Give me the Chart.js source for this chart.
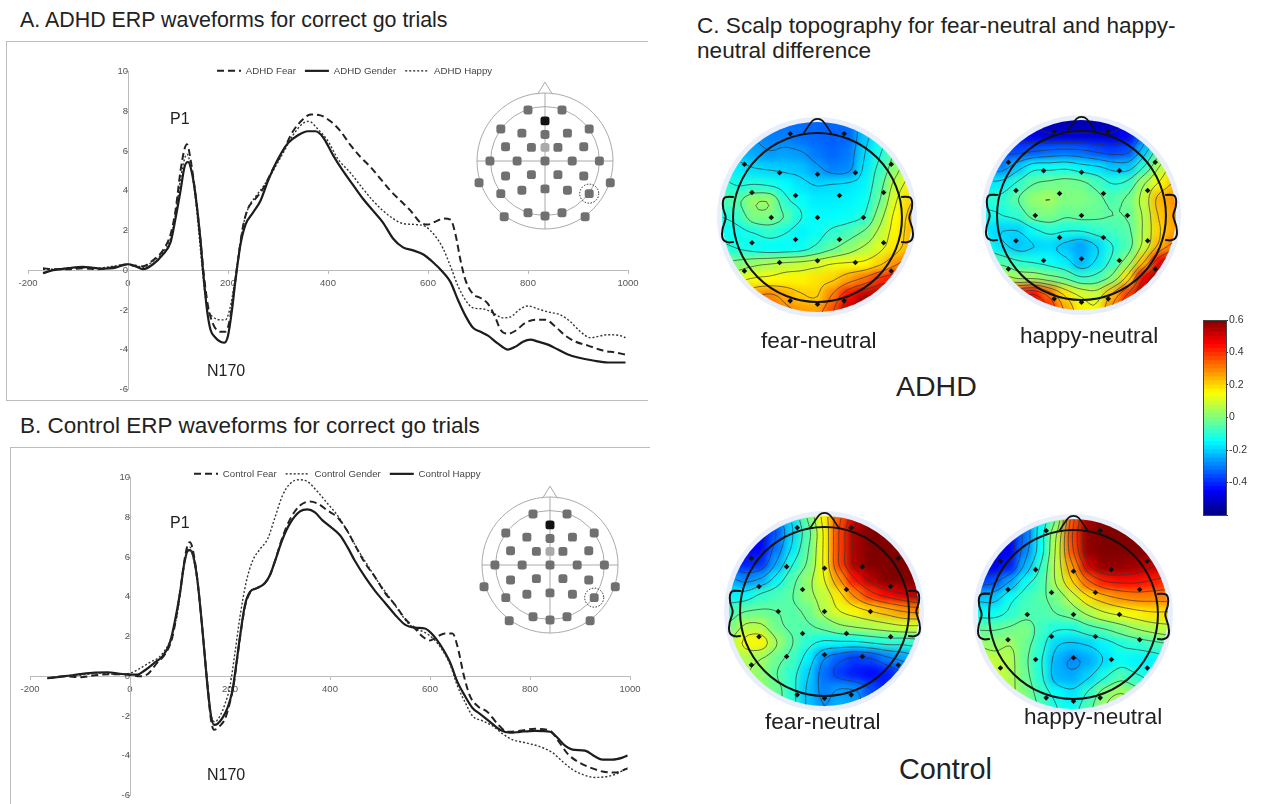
<!DOCTYPE html>
<html>
<head>
<meta charset="utf-8">
<title>ERP waveforms and scalp topography</title>
<script src="https://cdn.jsdelivr.net/npm/chart.js@4"></script>
<style>
    html, body { margin: 0; padding: 0; background: #fff; overflow: hidden; }
    body { width: 1261px; height: 804px; position: relative; font-family: "Liberation Sans", Arial, sans-serif; color: #222; }
    canvas { position: absolute; display: block; }
    .txt { position: absolute; white-space: nowrap; line-height: 1; }
    .frame { position: absolute; background: #bdbdbd; }
    .halo { position: absolute; border-radius: 50%; background: #e8eefa; }
    .disc { position: absolute; width: 221px; height: 221px; clip-path: circle(95px at 50% 50%); }
    .disc canvas { filter: blur(4.5px); }
</style>
</head>
<body>
<div class="frame" style="left:6px;top:41px;width:642px;height:1px"></div>
<div class="frame" style="left:6px;top:41px;width:1px;height:360px"></div>
<div class="frame" style="left:6px;top:400px;width:642px;height:1px"></div>
<div class="frame" style="left:10px;top:447px;width:640px;height:1px"></div>
<div class="frame" style="left:10px;top:447px;width:1px;height:357px"></div>

<canvas id="chartA" width="660" height="362" style="left:0;top:43px;filter:blur(.3px)"></canvas>
<canvas id="chartB" width="660" height="362" style="left:0;top:449px;filter:blur(.3px)"></canvas>
<canvas id="insetA" width="170" height="170" style="left:460px;top:76px;filter:blur(.5px)"></canvas>
<canvas id="insetB" width="170" height="170" style="left:465px;top:480px;filter:blur(.5px)"></canvas>

<div id="maps"></div>
<canvas id="colorbar" width="60" height="215" style="left:1190px;top:310px"></canvas>
<div style="position:absolute;left:1203px;top:320px;width:22px;height:194px;border:1px solid #444"></div>

<div class="txt" style="left:20px;top:10px;font-size:21.4px">A. ADHD ERP waveforms for correct go trials</div>
<div class="txt" style="left:20px;top:415px;font-size:22.5px">B. Control ERP waveforms for correct go trials</div>
<div class="txt" style="left:697px;top:15px;font-size:22.6px">C. Scalp topography for fear-neutral and happy-</div>
<div class="txt" style="left:697px;top:40px;font-size:22.6px">neutral difference</div>
<div class="txt" style="left:170px;top:111px;font-size:16px">P1</div>
<div class="txt" style="left:207px;top:363px;font-size:16px">N170</div>
<div class="txt" style="left:170px;top:515px;font-size:16px">P1</div>
<div class="txt" style="left:207px;top:767px;font-size:16px">N170</div>
<div class="txt" style="left:761px;top:330px;font-size:22.6px">fear-neutral</div>
<div class="txt" style="left:1020px;top:325px;font-size:22.6px">happy-neutral</div>
<div class="txt" style="left:896px;top:372px;font-size:28.5px">ADHD</div>
<div class="txt" style="left:765px;top:711px;font-size:22.6px">fear-neutral</div>
<div class="txt" style="left:1024px;top:706px;font-size:22.6px">happy-neutral</div>
<div class="txt" style="left:899px;top:755px;font-size:28.8px">Control</div>

<script>
// ---------- waveforms (ms, microvolts) ----------
const adhdFearX = [-170,-150,-120,-90,-60,-30,0,15,30,50,70,85,95,105,113,118,125,135,145,152,160,170,185,195,205,212,220,230,240,255,270,290,310,330,350,365,385,405,425,445,465,485,505,525,545,565,585,600,615,630,645,655,665,675,690,705,720,735,745,760,775,795,815,835,855,875,895,920,950,975,995];
const adhdFearY = [0.1,0.05,0.05,0.1,0.05,0.15,0.3,0.2,0.2,0.5,1,1.8,3,5,6.1,6.35,5.6,3.8,1.5,-0.3,-1.8,-2.7,-3.1,-3.1,-2.3,-1,0.5,2.2,3.1,3.6,4.1,5.1,6,7,7.6,7.85,7.8,7.5,7,6.3,5.7,5.2,4.6,4,3.5,3,2.4,2.3,2.45,2.6,2.55,1.8,0.5,-0.5,-1.2,-1.4,-1.7,-2.4,-3,-3.2,-3.05,-2.65,-2.5,-2.5,-2.85,-3.3,-3.6,-3.8,-4.05,-4.15,-4.25];

const adhdGenderX = [-170,-150,-120,-90,-70,-50,-30,-10,0,15,30,50,70,85,95,105,113,120,127,135,145,150,158,165,175,185,193,200,208,215,225,235,250,265,280,300,320,340,360,375,390,410,430,450,470,490,510,530,550,570,590,610,630,645,660,675,690,705,720,740,760,775,790,805,820,840,860,880,900,930,960,995];
const adhdGenderY = [-0.15,0,0.1,0.17,0.12,0.08,0.1,0.25,0.3,0.2,0.05,0.3,0.8,1.4,2.6,4,5.2,5.45,5,3.8,1.5,0,-2,-3,-3.4,-3.6,-3.65,-3.3,-2,-0.5,1.3,2.3,2.9,3.5,4.5,5.6,6.4,6.8,7,7,6.7,5.8,5,4.3,3.6,3,2.4,1.6,1.15,1,0.8,0.4,-0.1,-0.6,-1.5,-2.3,-2.9,-3.1,-3.3,-3.7,-4,-3.85,-3.6,-3.5,-3.6,-3.75,-4,-4.25,-4.4,-4.55,-4.65,-4.65];

const adhdHappyX = [-170,-150,-120,-90,-60,-30,0,15,30,50,70,85,95,105,113,118,125,135,145,153,160,170,185,195,205,212,220,230,240,255,270,290,310,330,350,362,380,400,420,445,470,490,510,530,550,575,595,615,630,645,660,675,690,710,730,750,765,785,800,820,840,865,885,905,925,960,985,995];
const adhdHappyY = [0.05,0.05,0.1,0.12,0.1,0.2,0.3,0.25,0.15,0.45,0.9,1.6,2.8,4.6,5.6,5.85,5.3,3.6,1,-1,-2,-2.35,-2.5,-2.5,-1.8,-0.8,0.6,2.2,3.1,3.7,4.2,5,5.9,6.8,7.4,7.5,7.1,6.5,5.6,4.9,4.1,3.5,3,2.6,2.35,2.3,2.2,1.7,1.1,0.2,-0.8,-1.5,-1.9,-1.95,-2.15,-2.4,-2.35,-1.95,-1.8,-1.95,-2.1,-2.25,-2.6,-3.1,-3.4,-3.25,-3.3,-3.4];

const controlFearX = [-165,-130,-100,-70,-40,-10,20,35,55,70,85,100,108,115,120,127,135,145,155,162,168,180,190,200,207,215,222,230,240,255,270,280,290,305,320,340,360,375,395,415,435,450,470,490,510,530,550,570,585,600,615,630,645,655,668,680,695,715,735,755,780,810,840,855,875,895,920,945,970,995];
const controlFearY = [-0.1,0,-0.05,0.05,0.1,0.1,0,0.1,0.7,1.1,2,4.2,5.7,6.6,6.75,6.2,4.8,2.3,-0.5,-2.2,-2.7,-2.5,-2.15,-1.3,-0.5,1,2.3,3.5,4.2,4.45,4.7,5.1,5.8,7,7.9,8.6,8.8,8.7,8.35,8,7.3,6.6,5.7,5,4.2,3.6,2.9,2.4,2,1.8,2,2.15,2.15,1.5,0,-1,-1.5,-1.8,-2.4,-2.8,-2.75,-2.65,-2.75,-3.2,-3.9,-4.3,-4.6,-4.8,-4.85,-4.65];

const controlGenderX = [-165,-130,-100,-60,-30,0,20,40,60,80,95,105,113,120,127,135,145,155,162,170,180,190,200,210,220,232,245,260,275,290,305,320,338,355,375,395,415,435,455,475,495,515,535,555,570,590,610,625,640,655,670,685,705,725,745,765,790,820,845,865,885,905,930,955,975,995];
const controlGenderY = [-0.1,0,0.05,0.15,0.1,0.15,0.4,0.7,1,1.8,3.2,5,6.2,6.5,5.9,4.7,2.3,-0.3,-1.9,-2.3,-2,-1.4,-0.5,1.2,3,4.7,5.8,6.4,6.9,8,9.1,9.7,9.9,9.8,9.3,8.7,8.1,7.3,6.4,5.6,4.8,4.1,3.4,2.7,2.4,2.2,1.8,1.3,0.6,-0.5,-1.3,-2,-2.25,-2.5,-2.9,-3.2,-3.35,-3.55,-3.85,-4.3,-4.7,-4.95,-5.1,-5.05,-4.9,-4.6];

const controlHappyX = [-165,-130,-100,-70,-45,-20,0,15,30,50,65,80,90,100,108,115,120,127,135,145,155,162,168,175,185,195,205,212,220,230,240,255,270,280,290,305,320,340,355,370,385,400,420,435,450,470,490,510,530,550,570,590,605,620,640,655,670,685,700,720,740,760,780,810,840,855,870,885,910,930,945,965,985,995];
const controlHappyY = [-0.1,0,0.1,0.18,0.2,0.12,0.08,0.08,0.3,0.7,1,1.7,2.8,4.2,5.6,6.3,6.35,6,4.8,2.3,-0.5,-2,-2.45,-2.4,-2.1,-1.6,-0.7,0.5,2,3.6,4.25,4.45,4.7,5.1,5.8,6.9,7.7,8.3,8.4,8.25,7.85,7.55,7.1,6.5,5.8,5,4.3,3.7,3.1,2.6,2.45,2.4,2.1,1.6,0.7,-0.3,-1,-1.6,-1.9,-2.3,-2.7,-2.85,-2.8,-2.75,-2.8,-3.1,-3.5,-3.7,-3.75,-4.05,-4.2,-4.2,-4.1,-4];

// ---------- electrode montage of the insets ----------
const insetElecX = [-0.25,0.25,0,-0.65,0.65,-0.34,0,0.33,-0.58,-0.2,0,0.19,0.57,-0.81,-0.41,0,0.4,0.8,-0.58,-0.2,0.19,0.57,-0.97,0.96,-0.65,-0.34,0,0.33,0.65,-0.25,0,0.25,-0.6,0.59];
const insetElecY = [0.75,0.75,0.59,0.47,0.47,0.41,0.39,0.41,0.21,0.2,0.2,0.2,0.21,0,0,0,0,0,-0.22,-0.2,-0.2,-0.22,-0.32,-0.32,-0.48,-0.43,-0.41,-0.43,-0.48,-0.76,-0.81,-0.76,-0.82,-0.82];
const insetBlack = 2;
const insetLight = 10;
const insetCircled = 28;

// ---------- scalp maps, values in hundredths, 13 x 13 cells ----------
const gridAxis = [-6,-5,-4,-3,-2,-1,0,1,2,3,4,5,6];

const adhdFearGrid = [
    [-25,-28,-30,-32,-32,-32,-33,-33,-32,-25,-20,-12,-5],
    [-22,-26,-28,-30,-30,-32,-33,-34,-33,-22,-15,-8,2],
    [-18,-22,-25,-27,-26,-27,-31,-33,-31,-20,-12,-2,8],
    [-15,-17,-19,-20,-21,-22,-26,-30,-29,-18,-9,2,12],
    [-10,-12,-11,-12,-15,-18,-20,-19,-18,-16,-6,8,16],
    [-6,-5,3,3,-10,-14,-17,-17,-16,-14,-3,12,20],
    [-12,-9,0,0,-5,-12,-15,-15,-14,-11,2,15,22],
    [-14,-14,-12,-9,-12,-16,-14,-10,-7,-2,7,16,23],
    [-10,-12,-14,-15,-15,-14,-9,-4,1,6,11,18,25],
    [-3,0,3,5,7,8,10,13,14,15,20,28,34],
    [6,11,14,15,16,16,18,20,26,32,40,44,50],
    [14,20,27,30,25,21,20,30,44,52,54,56,58],
    [20,26,32,34,30,27,26,36,52,56,58,60,60]
];
const adhdHappyGrid = [
    [-42,-48,-50,-53,-55,-55,-55,-55,-55,-52,-40,-20,-8],
    [-38,-42,-46,-48,-50,-50,-50,-50,-50,-45,-32,-15,-4],
    [-35,-37,-37,-35,-33,-32,-33,-36,-38,-36,-22,-5,5],
    [-30,-30,-22,-14,-14,-13,-16,-18,-22,-22,-10,6,16],
    [-18,-17,-10,-4,-2,-1,-2,-7,-12,-9,4,14,22],
    [-10,-10,-4,2,4,0,0,-2,-6,-2,8,24,28],
    [-14,-12,-9,-1,0,-3,-2,-3,-4,-3,6,22,26],
    [-18,-20,-20,-14,-10,-12,-12,-9,-7,-5,6,20,26],
    [-14,-18,-22,-20,-19,-22,-26,-20,-12,-6,8,24,32],
    [-4,-6,-10,-12,-14,-17,-24,-18,-9,2,22,45,55],
    [6,8,4,4,0,-4,-10,-8,0,18,46,58,60],
    [24,32,40,44,32,18,10,8,22,38,54,60,60],
    [34,42,50,52,42,26,16,14,30,46,58,60,60]
];
const controlFearGrid = [
    [-30,-38,-38,-30,-18,-2,16,35,50,58,60,55,45],
    [-38,-42,-45,-35,-20,-6,14,38,55,60,60,60,55],
    [-42,-46,-45,-32,-18,-4,14,38,55,60,60,60,60],
    [-38,-42,-40,-26,-12,-2,14,38,55,60,60,60,60],
    [-26,-30,-26,-16,-6,2,12,28,44,54,60,60,60],
    [-16,-16,-10,-7,-4,2,8,18,30,40,46,50,54],
    [-8,-4,-3,-4,-5,-2,6,12,16,20,24,28,30],
    [-2,6,6,-2,-5,-5,-2,2,4,6,8,10,10],
    [4,14,16,4,-4,-10,-14,-14,-14,-12,-10,-10,-8],
    [2,6,4,-2,-7,-16,-28,-34,-38,-36,-30,-26,-22],
    [2,4,2,-4,-10,-20,-32,-38,-42,-44,-42,-36,-30],
    [6,6,2,-2,-10,-22,-30,-27,-28,-36,-42,-40,-35],
    [8,8,4,-2,-10,-22,-28,-24,-26,-34,-40,-40,-38]
];
const controlHappyGrid = [
    [-25,-35,-40,-30,-16,0,35,55,60,60,60,58,50],
    [-35,-42,-45,-32,-14,6,38,58,60,60,60,60,58],
    [-42,-48,-47,-30,-14,8,36,58,60,60,60,60,58],
    [-45,-48,-42,-24,-10,8,28,50,58,58,56,52,50],
    [-38,-36,-26,-14,-7,6,20,34,42,44,44,42,40],
    [-22,-22,-14,-8,-5,-1,8,18,24,28,30,30,30],
    [-14,-14,-10,-6,-6,-4,-1,5,10,13,16,18,18],
    [-4,-4,-2,0,-8,-12,-12,-8,-5,-1,3,6,8],
    [4,2,4,-2,-10,-20,-22,-20,-16,-12,-10,-8,-6],
    [8,8,6,-3,-12,-24,-29,-25,-19,-14,-16,-16,-14],
    [12,10,6,-2,-11,-24,-25,-20,-12,-6,-10,-14,-14],
    [14,12,6,0,-8,-15,-18,-10,0,4,0,-6,-8],
    [16,14,8,2,-6,-12,-14,-6,4,8,4,-2,-6]
];

const scalpElecX = [-1.73,1.69,-4.63,4.67,-2.4,0,2.4,-4.15,-1.39,1.39,4.19,-2.93,0,2.91,-4.15,-1.39,1.39,4.19,-4.63,-2.4,0,2.4,4.67,-1.73,0,1.69];
const scalpElecY = [5.31,5.31,3.37,3.37,2.84,2.74,2.84,1.58,1.39,1.39,1.58,0,0,0,-1.6,-1.39,-1.39,-1.6,-3.39,-2.85,-2.74,-2.85,-3.39,-5.28,-5.49,-5.28];

const colorbarTicks = [-0.6,-0.4,-0.2,0,0.2,0.4,0.6];

// ---------- helpers ----------
const fontName = "'Liberation Sans', Arial, sans-serif";

function toPoints(xs, ys) {
    return xs.map((x, i) => ({ x: x, y: ys[i] }));
}

function jet(v) {
    // v goes from -0.6 to 0.6
    let t = Math.max(0, Math.min(1, (v + 0.6) / 1.2));
    let r = Math.min(4 * t - 1.5, -4 * t + 4.5);
    let g = Math.min(4 * t - 0.5, -4 * t + 3.5);
    let b = Math.min(4 * t + 0.5, -4 * t + 2.5);
    let c = x => Math.round(255 * Math.max(0, Math.min(1, x)));
    return `rgb(${c(r)},${c(g)},${c(b)})`;
}

const lineStyles = {
    dashed: { borderWidth: 2, borderDash: [7, 4], borderColor: "#222" },
    solid: { borderWidth: 2.2, borderDash: [], borderColor: "#1c1c1c" },
    dotted: { borderWidth: 1.4, borderDash: [2, 2], borderColor: "#333" }
};

function makeSeries(label, xs, ys, kind) {
    return Object.assign({
        label: label,
        data: toPoints(xs, ys),
        showLine: true,
        pointRadius: 0,
        cubicInterpolationMode: "monotone"
    }, lineStyles[kind]);
}

function legendItems(chart) {
    // with point styles the default items lose the dash of the line
    const items = Chart.defaults.plugins.legend.labels.generateLabels(chart);
    items.forEach((item, i) => {
        const ds = chart.data.datasets[i];
        item.lineDash = ds.borderDash;
        item.lineWidth = ds.borderWidth;
        item.strokeStyle = ds.borderColor;
    });
    return items;
}

function makeWaveChart(id, datasets, legendLeft, legendTop, pad) {
    // the legend sits over the plot in the reference, so it is moved after layout
    const moveLegend = {
        id: "moveLegend",
        afterLayout(chart) {
            const l = chart.legend;
            const w = l.right - l.left;
            l.left = legendLeft;
            l.right = legendLeft + w;
            l.top = legendTop;
            l.bottom = legendTop + 30;
        }
    };
    return new Chart(document.getElementById(id), {
        type: "scatter",
        data: { datasets: datasets },
        plugins: [moveLegend],
        options: {
            responsive: false,
            animation: false,
            layout: { padding: pad },
            plugins: {
                tooltip: { enabled: false },
                legend: {
                    position: "top",
                    align: "start",
                    labels: {
                        usePointStyle: true,
                        pointStyle: "line",
                        pointStyleWidth: 24,
                        padding: 9,
                        color: "#444",
                        font: { size: 9.7, family: fontName },
                        generateLabels: legendItems
                    }
                }
            },
            scales: {
                x: {
                    type: "linear",
                    min: -200,
                    max: 1000,
                    position: { y: 0 },
                    border: { color: "#bbb" },
                    grid: { drawOnChartArea: false, color: "#bbb", tickLength: 3 },
                    ticks: { stepSize: 200, color: "#555", padding: 4, maxRotation: 0, font: { size: 9.5, family: fontName }, callback: v => String(v) }
                },
                y: {
                    type: "linear",
                    min: -6,
                    max: 10,
                    position: { x: 0 },
                    border: { color: "#bbb" },
                    grid: { drawOnChartArea: false, color: "#bbb", tickLength: 3 },
                    ticks: { stepSize: 2, color: "#555", padding: 10, font: { size: 9.5, family: fontName } }
                }
            }
        }
    });
}

makeWaveChart("chartA", [
    makeSeries("ADHD Fear", adhdFearX, adhdFearY, "dashed"),
    makeSeries("ADHD Gender", adhdGenderX, adhdGenderY, "solid"),
    makeSeries("ADHD Happy", adhdHappyX, adhdHappyY, "dotted")
], 208, 14, { left: 28, right: 32, top: 0, bottom: 11 });

makeWaveChart("chartB", [
    makeSeries("Control Fear", controlFearX, controlFearY, "dashed"),
    makeSeries("Control Gender", controlGenderX, controlGenderY, "dotted"),
    makeSeries("Control Happy", controlHappyX, controlHappyY, "solid")
], 185, 11, { left: 30, right: 30, top: 0, bottom: 9 });

// electrode inset, outline drawn through the chart's scales
const insetOutline = {
    id: "insetOutline",
    beforeDatasetsDraw(chart) {
        const { ctx, scales: { x, y } } = chart;
        const unit = x.getPixelForValue(1) - x.getPixelForValue(0);
        const cx = x.getPixelForValue(0), cy = y.getPixelForValue(0);
        ctx.save();
        ctx.strokeStyle = "#aaa";
        ctx.lineWidth = 1;
        ctx.beginPath(); ctx.arc(cx, cy, unit, 0, Math.PI * 2); ctx.stroke();
        ctx.beginPath(); ctx.arc(cx, cy, unit * 0.8, 0, Math.PI * 2); ctx.stroke();
        ctx.beginPath();
        ctx.moveTo(x.getPixelForValue(-1), cy); ctx.lineTo(x.getPixelForValue(1), cy);
        ctx.moveTo(cx, y.getPixelForValue(1)); ctx.lineTo(cx, y.getPixelForValue(-1));
        ctx.moveTo(x.getPixelForValue(-0.11), y.getPixelForValue(0.98));
        ctx.lineTo(cx, y.getPixelForValue(1.16));
        ctx.lineTo(x.getPixelForValue(0.11), y.getPixelForValue(0.98));
        ctx.stroke();
        ctx.restore();
    },
    afterDatasetsDraw(chart) {
        const { ctx, scales: { x, y } } = chart;
        ctx.save();
        ctx.strokeStyle = "#222";
        ctx.lineWidth = 1;
        ctx.setLineDash([1.5, 1.5]);
        ctx.beginPath();
        ctx.arc(x.getPixelForValue(insetElecX[insetCircled]), y.getPixelForValue(insetElecY[insetCircled]), 9.5, 0, Math.PI * 2);
        ctx.stroke();
        ctx.restore();
    }
};

function makeInset(id) {
    return new Chart(document.getElementById(id), {
        type: "scatter",
        data: {
            datasets: [{
                data: toPoints(insetElecX, insetElecY),
                pointStyle: "rectRounded",
                pointRadius: 5.2,
                pointBorderWidth: 0,
                pointBackgroundColor: insetElecX.map((v, i) => i === insetBlack ? "#111" : i === insetLight ? "#aaa" : "#707070")
            }]
        },
        plugins: [insetOutline],
        options: {
            responsive: false,
            animation: false,
            layout: { autoPadding: false },
            plugins: { legend: { display: false }, tooltip: { enabled: false } },
            scales: {
                x: { display: false, min: -1.25, max: 1.25 },
                y: { display: false, min: -1.25, max: 1.25 }
            }
        }
    });
}
makeInset("insetA");
makeInset("insetB");

// ---------- scalp maps ----------
function catmull(a, b, c, d, t) {
    return 0.5 * (2 * b + (c - a) * t + (2 * a - 5 * b + 4 * c - d) * t * t + (3 * b - a - 3 * c + d) * t * t * t);
}

function fineGrid(grid, f) {
    // only used to round the contour lines, the colored cells stay as they were read
    const n = grid.length;
    const at = (r, c) => grid[Math.max(0, Math.min(n - 1, r))][Math.max(0, Math.min(n - 1, c))];
    const size = (n - 1) * f + 1;
    const out = [];
    for (let i = 0; i < size; i++) {
        const row = [];
        const r = Math.floor(i / f), tr = i / f - r;
        for (let j = 0; j < size; j++) {
            const c = Math.floor(j / f), tc = j / f - c;
            const col = [-1, 0, 1, 2].map(k => catmull(at(r + k, c - 1), at(r + k, c), at(r + k, c + 1), at(r + k, c + 2), tc));
            row.push(catmull(col[0], col[1], col[2], col[3], tr));
        }
        out.push(row);
    }
    return out;
}

const contourLevels = [-52,-44,-36,-28,-20,-12,-4,4,12,20,28,36,44,52];
const earPath = [[5.3,1.3],[5.7,1.35],[6,1.2],[6,0.5],[5.75,0],[6.05,-0.7],[6.05,-1.4],[5.7,-1.6],[5.3,-1.55]];
const nosePath = [[-0.9,5.3],[-0.45,6],[-0.2,6.25],[0.2,6.25],[0.45,6],[0.9,5.3]];

function smoothPath(ctx, pts, px, py, side) {
    // rounded line through the mid points
    ctx.beginPath();
    ctx.moveTo(px(side * pts[0][0]), py(pts[0][1]));
    for (let i = 1; i < pts.length - 1; i++) {
        const mx = (pts[i][0] + pts[i + 1][0]) / 2, my = (pts[i][1] + pts[i + 1][1]) / 2;
        ctx.quadraticCurveTo(px(side * pts[i][0]), py(pts[i][1]), px(side * mx), py(my));
    }
    const last = pts[pts.length - 1];
    ctx.lineTo(px(side * last[0]), py(last[1]));
    ctx.stroke();
}

function makeScalpOutline(grid) {
    const f = 4;
    const fine = fineGrid(grid, f);
    return {
        id: "scalpOutline",
        beforeDatasetsDraw(chart) {
            const { ctx, scales: { x, y } } = chart;
            const px = u => x.getPixelForValue(u);
            const py = v => y.getPixelForValue(v);
            const unit = px(1) - px(0);
            const size = fine.length;
            const ux = j => -6 + j / f;
            const uy = i => 6 - i / f;

            ctx.save();
            ctx.beginPath();
            ctx.arc(px(0), py(0), unit * 6, 0, Math.PI * 2);
            ctx.clip();
            ctx.strokeStyle = "rgba(50,50,50,.75)";
            ctx.lineWidth = 0.9;
            ctx.beginPath();
            contourLevels.forEach(level => {
                for (let i = 0; i < size - 1; i++) {
                    for (let j = 0; j < size - 1; j++) {
                        const a = fine[i][j], b = fine[i][j + 1], c = fine[i + 1][j + 1], d = fine[i + 1][j];
                        const pts = [];
                        if ((a < level) !== (b < level)) pts.push([ux(j + (level - a) / (b - a)), uy(i)]);
                        if ((b < level) !== (c < level)) pts.push([ux(j + 1), uy(i + (level - b) / (c - b))]);
                        if ((d < level) !== (c < level)) pts.push([ux(j + (level - d) / (c - d)), uy(i + 1)]);
                        if ((a < level) !== (d < level)) pts.push([ux(j), uy(i + (level - a) / (d - a))]);
                        for (let k = 0; k + 1 < pts.length; k += 2) {
                            ctx.moveTo(px(pts[k][0]), py(pts[k][1]));
                            ctx.lineTo(px(pts[k + 1][0]), py(pts[k + 1][1]));
                        }
                    }
                }
            });
            ctx.stroke();
            ctx.restore();

            ctx.save();
            ctx.strokeStyle = "#111";
            ctx.lineWidth = 2;
            ctx.lineJoin = "round";
            ctx.beginPath();
            ctx.arc(px(0), py(0), unit * 5.35, 0, Math.PI * 2);
            ctx.stroke();
            smoothPath(ctx, earPath, px, py, 1);
            smoothPath(ctx, earPath, px, py, -1);
            ctx.lineWidth = 1.6;
            smoothPath(ctx, nosePath, px, py, 1);
            ctx.restore();
        }
    };
}

const unitScales = {
    x: { display: false, min: -7, max: 7 },
    y: { display: false, min: -7, max: 7 }
};

function addScalpMap(grid, cx, cy) {
    const holder = document.getElementById("maps");
    const left = cx - 110.5, top = cy - 110.5;

    const halo = document.createElement("div");
    halo.className = "halo";
    halo.style.cssText = `left:${cx - 100}px;top:${cy - 100}px;width:200px;height:200px`;
    holder.appendChild(halo);

    const disc = document.createElement("div");
    disc.className = "disc";
    disc.style.left = left + "px";
    disc.style.top = top + "px";
    const heat = document.createElement("canvas");
    heat.width = 221;
    heat.height = 221;
    disc.appendChild(heat);
    holder.appendChild(disc);

    const over = document.createElement("canvas");
    over.width = 221;
    over.height = 221;
    over.style.left = left + "px";
    over.style.top = top + "px";
    over.style.filter = "blur(.4px)";
    holder.appendChild(over);

    const cells = [];
    grid.forEach((row, r) => row.forEach((v, c) => {
        cells.push({ x: gridAxis[c], y: -gridAxis[r], v: v / 100 });
    }));

    new Chart(heat, {
        type: "scatter",
        data: {
            datasets: [{
                data: cells,
                pointStyle: "rect",
                pointRadius: 13,
                pointBorderWidth: 0,
                pointBackgroundColor: cells.map(d => jet(d.v))
            }]
        },
        options: {
            responsive: false,
            animation: false,
            layout: { autoPadding: false },
            plugins: { legend: { display: false }, tooltip: { enabled: false } },
            scales: unitScales
        }
    });

    new Chart(over, {
        type: "scatter",
        data: {
            datasets: [{
                data: toPoints(scalpElecX, scalpElecY),
                pointStyle: "rectRot",
                pointRadius: 2.8,
                pointBorderWidth: 0,
                pointBackgroundColor: "#111"
            }]
        },
        plugins: [makeScalpOutline(grid)],
        options: {
            responsive: false,
            animation: false,
            layout: { autoPadding: false },
            plugins: { legend: { display: false }, tooltip: { enabled: false } },
            scales: unitScales
        }
    });
}

addScalpMap(adhdFearGrid, 817, 217);
addScalpMap(adhdHappyGrid, 1081, 215);
addScalpMap(controlFearGrid, 824, 611);
addScalpMap(controlHappyGrid, 1073, 614);

// ---------- colour bar ----------
const barSets = [];
for (let v = -0.6; v < 0.6 - 1e-6; v += 0.025) {
    barSets.push({
        data: [[v, v + 0.026]],
        backgroundColor: jet(v + 0.0125),
        borderWidth: 0,
        barPercentage: 1,
        categoryPercentage: 1,
        grouped: false
    });
}

new Chart(document.getElementById("colorbar"), {
    type: "bar",
    data: { labels: [""], datasets: barSets },
    options: {
        responsive: false,
        animation: false,
        layout: { padding: { left: 13, top: 10, bottom: 10 } },
        plugins: { legend: { display: false }, tooltip: { enabled: false } },
        scales: {
            x: { display: false },
            y: {
                position: "right",
                min: -0.6,
                max: 0.6,
                border: { color: "#333" },
                grid: { drawOnChartArea: false, color: "#333", tickLength: 2 },
                afterFit(scale) { scale.width = 24; },
                afterBuildTicks(scale) { scale.ticks = colorbarTicks.map(v => ({ value: v })); },
                ticks: {
                    color: "#333",
                    padding: 1,
                    font: { size: 10.5, family: fontName },
                    callback: v => v === -0.6 ? "" : String(v)
                }
            }
        }
    }
});
</script>
</body>
</html>
